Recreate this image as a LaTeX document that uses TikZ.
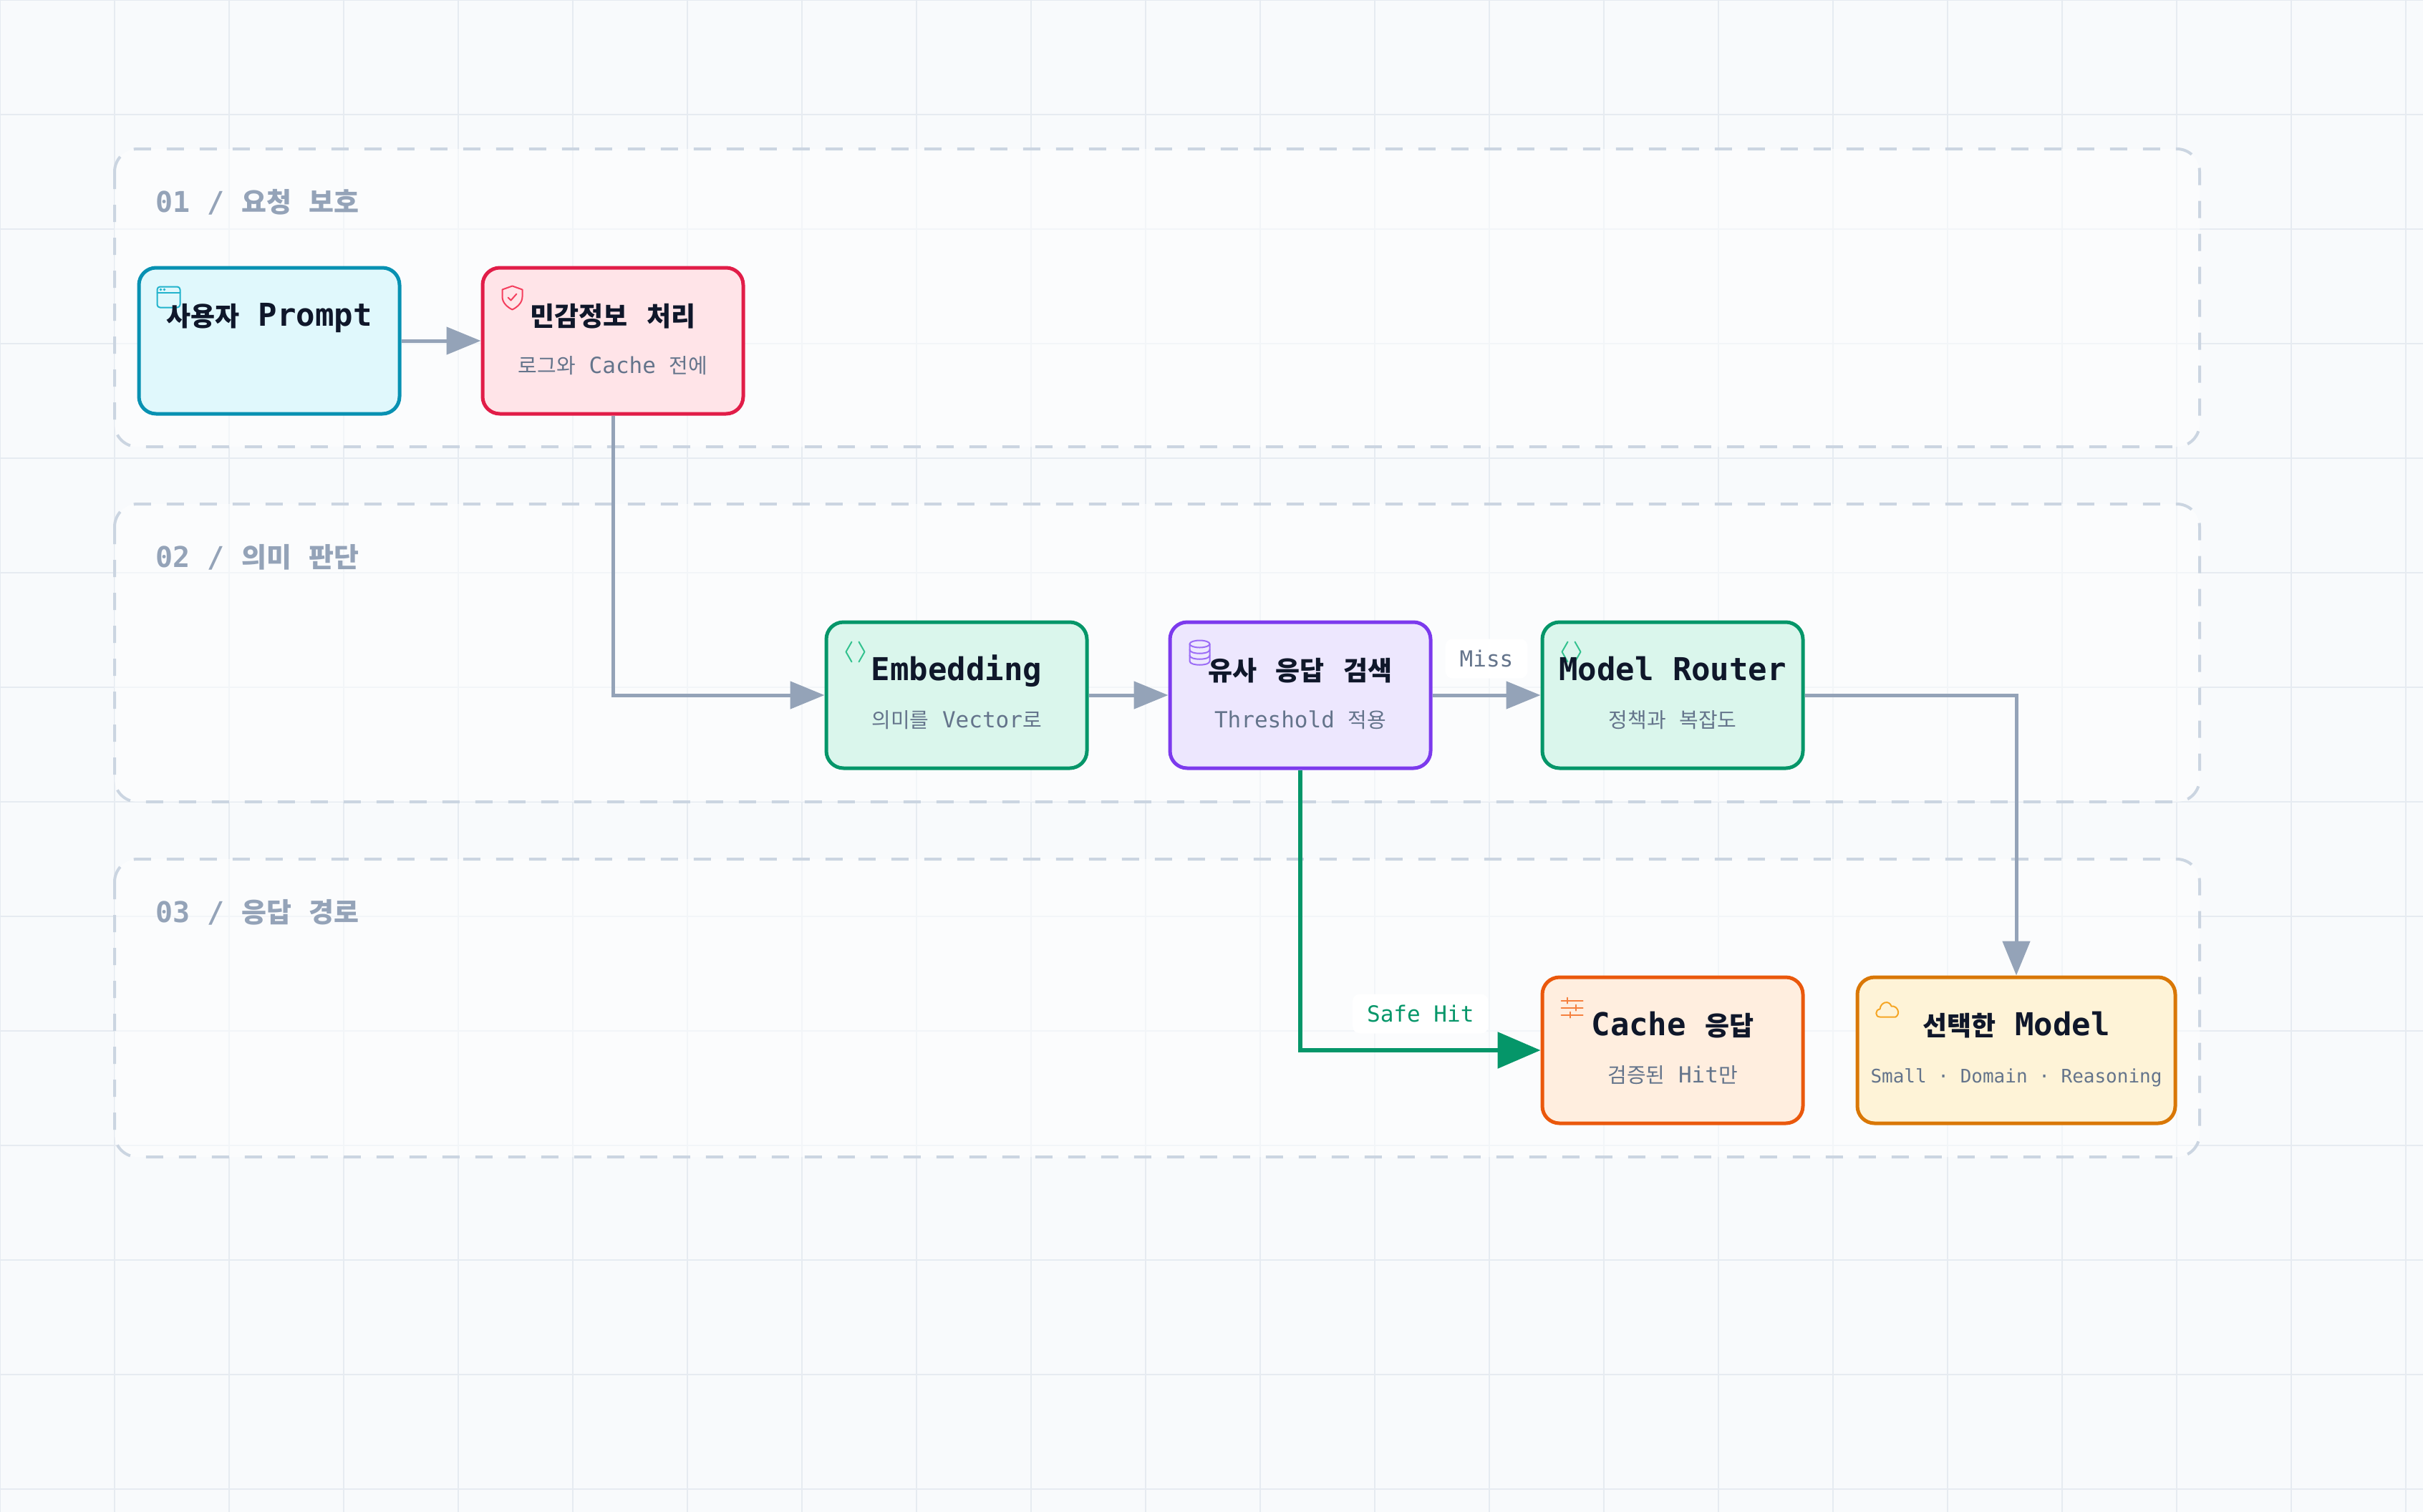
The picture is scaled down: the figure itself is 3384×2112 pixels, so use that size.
\documentclass[tikz,border=0pt]{standalone}
\usepackage{fontspec}
\setmonofont{DejaVu Sans Mono}
\newfontfamily\kr{Noto Sans CJK KR}
\usetikzlibrary{arrows.meta,calc}
\definecolor{bgc}{HTML}{F8FAFC}
\definecolor{gridc}{HTML}{E6EBF1}
\definecolor{groupc}{HTML}{CBD5E1}
\definecolor{labgray}{HTML}{94A3B8}
\definecolor{titlec}{HTML}{0F172A}
\definecolor{subgray}{HTML}{64748B}
\definecolor{edgegray}{HTML}{94A3B8}
\definecolor{hitgreen}{HTML}{059669}
\definecolor{cyanF}{HTML}{E0F8FC}
\definecolor{cyanD}{HTML}{0891B2}
\definecolor{cyanI}{HTML}{22B3CC}
\definecolor{roseF}{HTML}{FFE4E8}
\definecolor{roseD}{HTML}{E11D48}
\definecolor{roseI}{HTML}{F43F5E}
\definecolor{greenF}{HTML}{DAF6EC}
\definecolor{greenD}{HTML}{059669}
\definecolor{greenI}{HTML}{34C28F}
\definecolor{violetF}{HTML}{EDE7FE}
\definecolor{violetD}{HTML}{7C3AED}
\definecolor{violetI}{HTML}{9B6CF6}
\definecolor{orangeF}{HTML}{FFEEDF}
\definecolor{orangeD}{HTML}{EA580C}
\definecolor{orangeI}{HTML}{F5813F}
\definecolor{amberF}{HTML}{FEF3D7}
\definecolor{amberD}{HTML}{D97706}
\definecolor{amberI}{HTML}{F5A524}
\def\hkfs{37}
\newcommand\hk[1]{{\kr\fontsize{\hkfs}{\hkfs}\selectfont #1}}
\tikzset{
  gridline/.style={draw=gridc, line width=2pt},
  groupbox/.style={draw=groupc, line width=4pt, dash pattern=on 24pt off 22pt, rounded corners=32pt, fill=white, fill opacity=0.5},
  grouplabel/.style={anchor=base west, inner sep=0pt, text=labgray, font=\fontsize{40}{46}\selectfont\ttfamily\bfseries\def\hkfs{38}},
  box/.style={rounded corners=24pt, line width=5pt, minimum width=364pt, minimum height=204pt, inner sep=0pt},
  titletext/.style={anchor=base, inner sep=0pt, text=titlec, font=\fontsize{44}{50}\selectfont\ttfamily\bfseries\def\hkfs{37}},
  subtext/.style={anchor=base, inner sep=0pt, text=subgray, font=\fontsize{31}{36}\selectfont\ttfamily\def\hkfs{29}},
  smallsub/.style={anchor=base, inner sep=0pt, text=subgray, font=\fontsize{26}{30}\selectfont\ttfamily},
  edge/.style={line width=5pt, draw=edgegray, -{Triangle[length=48pt,width=38pt]}},
  hitedge/.style={line width=6pt, draw=hitgreen, -{Triangle[length=60pt,width=50pt]}},
  pilllabel/.style={fill=white, rounded corners=10pt, inner xsep=20pt, inner ysep=0pt, minimum height=55pt, font=\fontsize{31}{36}\selectfont\ttfamily},
  icon/.style={line width=2pt, line cap=round, line join=round}
}
\begin{document}
\begin{tikzpicture}[x=1pt,y=-1pt]
\useasboundingbox (0,0) rectangle (3384,2112);
\fill[bgc] (0,0) rectangle (3384,2112);
\foreach \gx in {0,160,...,3360} \draw[gridline] (\gx,0) -- (\gx,2112);
\foreach \gy in {0,160,...,2080} \draw[gridline] (0,\gy) -- (3384,\gy);

% groups
\draw[groupbox] (160,208) rectangle (3072,624);
\draw[groupbox] (160,704) rectangle (3072,1120);
\draw[groupbox] (160,1200) rectangle (3072,1616);
\node[grouplabel] (lab1) at (217,296) {01 / \hk{요청} \hk{보호}};
\node[grouplabel] (lab2) at (217,792) {02 / \hk{의미} \hk{판단}};
\node[grouplabel] (lab3) at (217,1288) {03 / \hk{응답} \hk{경로}};

% boxes
\node[box, fill=cyanF, draw=cyanD] (prompt) at (376,476) {};
\node[box, fill=roseF, draw=roseD] (pii) at (856,476) {};
\node[box, fill=greenF, draw=greenD] (embed) at (1336,971) {};
\node[box, fill=violetF, draw=violetD] (search) at (1816,971) {};
\node[box, fill=greenF, draw=greenD] (router) at (2336,971) {};
\node[box, fill=orangeF, draw=orangeD] (cache) at (2336,1467) {};
\node[box, fill=amberF, draw=amberD, minimum width=444pt] (model) at (2816,1467) {};

% icons
\begin{scope}[shift={($(prompt.north west)+(28,29)$)}, icon, draw=cyanI]
  \draw[rounded corners=4pt] (0,0) rectangle (32,29);
  \draw (0,8) -- (32,8);
  \fill[cyanI] (5,4) circle (1.8);
  \fill[cyanI] (10,4) circle (1.8);
\end{scope}
\begin{scope}[shift={($(pii.north west)+(30,28)$)}, icon, draw=roseI]
  \draw (14,0) -- (28,5) -- (28,15) .. controls (28,24) and (20,30) .. (14,33) .. controls (8,30) and (0,24) .. (0,15) -- (0,5) -- cycle;
  \draw (8,16) -- (12,20) -- (20,11);
\end{scope}
\begin{scope}[shift={($(embed.north west)+(29,30)$)}, icon, draw=greenI]
  \draw (9,0) -- (1,14) -- (9,28);
  \draw (19,0) -- (27,14) -- (19,28);
\end{scope}
\begin{scope}[shift={($(search.north west)+(30,28)$)}, icon, draw=violetI]
  \draw (14,5) ellipse (14 and 5);
  \draw (0,5) -- (0,29) .. controls (0,36) and (28,36) .. (28,29) -- (28,5);
  \draw (0,13) .. controls (0,20) and (28,20) .. (28,13);
  \draw (0,21) .. controls (0,28) and (28,28) .. (28,21);
\end{scope}
\begin{scope}[shift={($(router.north west)+(29,30)$)}, icon, draw=greenI]
  \draw (9,0) -- (1,14) -- (9,28);
  \draw (19,0) -- (27,14) -- (19,28);
\end{scope}
\begin{scope}[shift={($(cache.north west)+(29,33)$)}, icon, draw=orangeI]
  \draw (0,2) -- (30,2);
  \draw (0,12) -- (30,12);
  \draw (0,22) -- (30,22);
  \draw (8,-2) -- (8,6);
  \draw (20,8) -- (20,16);
  \draw (12,18) -- (12,26);
\end{scope}
\begin{scope}[shift={($(model.north west)+(27,34)$)}, icon, draw=amberI]
  \draw (7,24) .. controls (0,24) and (0,14) .. (7,13) .. controls (8,3) and (20,0) .. (23,9) .. controls (32,8) and (36,20) .. (29,24) -- cycle;
\end{scope}

% titles and subtitles
\node[titletext] (prompt-t) at ($(prompt.north)+(0,84)$) {\hk{사용자} Prompt};
\node[titletext] (pii-t) at ($(pii.north)+(0,84)$) {\hk{민감정보} \hk{처리}};
\node[subtext] (pii-s) at ($(pii.north)+(0,150)$) {\hk{로그와} Cache \hk{전에}};
\node[titletext] (embed-t) at ($(embed.north)+(0,84)$) {Embedding};
\node[subtext] (embed-s) at ($(embed.north)+(0,150)$) {\hk{의미를} Vector\hk{로}};
\node[titletext] (search-t) at ($(search.north)+(0,84)$) {\hk{유사} \hk{응답} \hk{검색}};
\node[subtext] (search-s) at ($(search.north)+(0,150)$) {Threshold \hk{적용}};
\node[titletext] (router-t) at ($(router.north)+(0,84)$) {Model Router};
\node[subtext] (router-s) at ($(router.north)+(0,150)$) {\hk{정책과} \hk{복잡도}};
\node[titletext] (cache-t) at ($(cache.north)+(0,84)$) {Cache \hk{응답}};
\node[subtext] (cache-s) at ($(cache.north)+(0,150)$) {\hk{검증된} Hit\hk{만}};
\node[titletext] (model-t) at ($(model.north)+(0,84)$) {\hk{선택한} Model};
\node[smallsub] (model-s) at ($(model.north)+(0,150)$) {Small · Domain · Reasoning};

% connectors
\draw[edge] (prompt.east) -- (pii.west);
\draw[edge] (pii.south) |- (embed.west);
\draw[edge] (embed.east) -- (search.west);
\draw[edge] (search.east) -- node[pilllabel, text=subgray, yshift=51pt] (misslbl) {Miss} (router.west);
\draw[edge] (router.east) -| (model.north);
\draw[hitedge] (search.south) |- node[pos=0.75, pilllabel, text=hitgreen, yshift=51pt] (hitlbl) {Safe Hit} (cache.west);
\end{tikzpicture}
\end{document}
